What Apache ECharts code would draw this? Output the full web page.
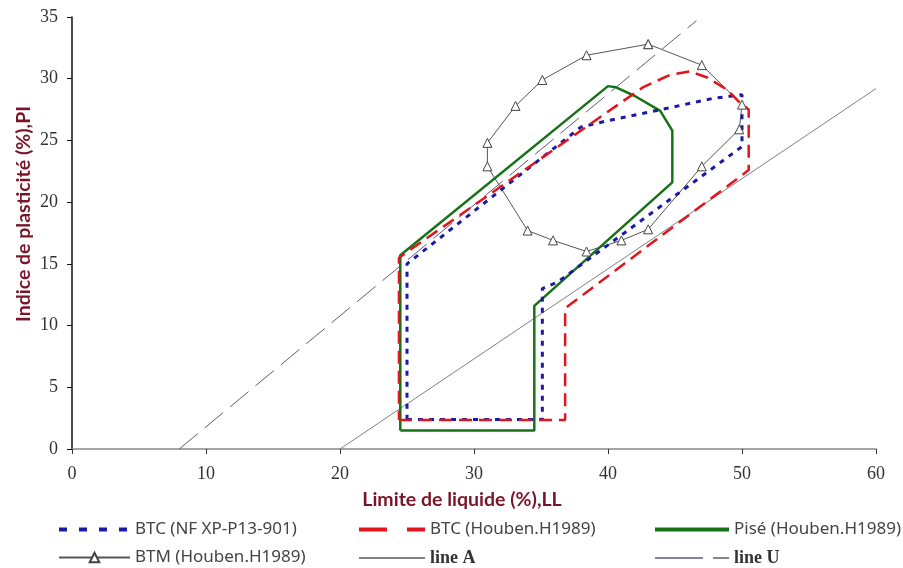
<!DOCTYPE html>
<html>
<head>
<meta charset="utf-8">
<script src="https://cdn.jsdelivr.net/npm/echarts@6/dist/echarts.min.js"></script>
<style>
  html, body { margin: 0; padding: 0; background: #fff; }
  #chart { width: 903px; height: 568px; }
</style>
</head>
<body>
<div id="chart"></div>
<script>
// Abaque de plasticité (Casagrande) — zones BTC / Pisé / BTM
var xTicks = [0, 10, 20, 30, 40, 50, 60];
var yTicks = [0, 5, 10, 15, 20, 25, 30, 35];

// BTC (NF XP-P13-901) — pointillé bleu
var btcNfLL = [25.0, 35.1, 35.1, 36.2, 50.0, 50.0, 47.8, 44.4, 40.0, 38.0, 25.0, 25.0];
var btcNfPI = [2.4, 2.4, 13.0, 13.5, 24.5, 28.7, 28.4, 27.6, 26.6, 26.1, 15.0, 2.4];

// BTC (Houben.H1989) — tirets rouges
var btcHoLL = [24.4, 36.8, 36.8, 50.5, 50.5, 49.8, 48.9, 47.4, 46.1, 44.6, 42.6, 24.4, 24.4];
var btcHoPI = [2.35, 2.35, 11.4, 22.6, 27.5, 28.1, 29.1, 30.1, 30.6, 30.3, 29.3, 15.5, 2.35];

// Pisé (Houben.H1989) — trait vert
var piseLL = [24.5, 34.5, 34.5, 44.8, 44.8, 43.9, 42.0, 40.6, 40.0, 24.5, 24.5];
var pisePI = [1.5, 1.5, 11.6, 21.6, 25.8, 27.4, 28.6, 29.3, 29.4, 15.7, 1.5];

// BTM (Houben.H1989) — triangles
var btmLL = [43.0, 47.0, 50.0, 49.8, 47.0, 43.0, 41.0, 38.4, 35.9, 34.0, 31.0, 31.0, 33.1, 35.1, 38.4, 43.0];
var btmPI = [32.8, 31.1, 27.9, 25.9, 22.9, 17.8, 16.9, 16.0, 16.9, 17.7, 22.9, 24.8, 27.8, 29.9, 31.9, 32.8];

// lignes A et U
var lineALL = [20, 60];
var lineAPI = [0, 29.2];
var lineULL = [8, 46.6];
var lineUPI = [0, 34.7];

function pairs(xs, ys) {
  var out = [];
  for (var i = 0; i < xs.length; i++) out.push([xs[i], ys[i]]);
  return out;
}

var chart = echarts.init(document.getElementById('chart'));

var legendText = { color: '#444', fontSize: 17, fontFamily: 'Noto Sans' };
var serifText = { fontFamily: 'Liberation Serif', fontWeight: 'bold', fontSize: 18, color: '#333' };
var noDot = { opacity: 0 };

var option = {
  animation: false,
  grid: { left: 72, right: 27, top: 17, bottom: 119 },
  legend: [{
    orient: 'vertical', left: 57, top: 521, padding: 0, itemWidth: 71, itemHeight: 12, itemGap: 11,
    textStyle: legendText,
    data: [
      { name: 'BTC (NF XP-P13-901)', itemStyle: noDot, lineStyle: { type: [8, 12], width: 4 } },
      { name: 'BTM (Houben.H1989)' }
    ]
  }, {
    orient: 'vertical', left: 357, top: 521, padding: 0, itemWidth: 66, itemHeight: 12, itemGap: 11,
    textStyle: legendText,
    data: [
      { name: 'BTC (Houben.H1989)', itemStyle: noDot, lineStyle: { type: [28, 20], width: 4 } },
      { name: 'line A', itemStyle: noDot, textStyle: serifText }
    ]
  }, {
    orient: 'vertical', left: 653, top: 521, padding: 0, itemWidth: 74, itemHeight: 12, itemGap: 11,
    textStyle: legendText,
    data: [
      { name: 'Pisé (Houben.H1989)', itemStyle: noDot, lineStyle: { width: 4 } },
      { name: 'line U', itemStyle: noDot, lineStyle: { type: [48, 10], width: 1.5 }, textStyle: serifText }
    ]
  }],
  xAxis: {
    type: 'value', min: 0, max: 60, interval: 10,
    name: 'Limite de liquide (%),LL', nameLocation: 'middle', nameGap: 41, nameMoveOverlap: false,
    nameTextStyle: { color: '#7a1428', fontWeight: 'bold', fontSize: 19.5, fontFamily: 'Lato', padding: [0, 24, 0, 0] },
    axisLine: { lineStyle: { color: '#888', width: 1.5 } },
    axisTick: { inside: false, length: 5, lineStyle: { color: '#333' } },
    axisLabel: { color: '#333', fontSize: 18, fontFamily: 'Liberation Serif', margin: 16 },
    splitLine: { show: false }
  },
  yAxis: {
    type: 'value', min: 0, max: 35, interval: 5,
    name: 'Indice de plasticité (%),PI', nameLocation: 'middle', nameGap: 38, nameMoveOverlap: false,
    nameTextStyle: { color: '#7a1428', fontWeight: 'bold', fontSize: 19.5, fontFamily: 'Lato', padding: [0, 0, 0, 38] },
    axisLine: { show: true, lineStyle: { color: '#111', width: 1.5 } },
    axisTick: { show: true, length: 5, lineStyle: { color: '#111' } },
    axisLabel: { color: '#333', fontSize: 18, fontFamily: 'Liberation Serif', margin: 14 },
    splitLine: { show: false }
  },
  series: [{
    name: 'line A', type: 'line', symbol: 'none', silent: true,
    data: pairs(lineALL, lineAPI),
    lineStyle: { color: '#808080', width: 1 }, itemStyle: { color: '#808080' }
  }, {
    name: 'line U', type: 'line', symbol: 'none', silent: true,
    data: pairs(lineULL, lineUPI),
    lineStyle: { color: '#5c5c78', width: 1, type: [24, 9] }, itemStyle: { color: '#5c5c78' }
  }, {
    name: 'BTM (Houben.H1989)', type: 'line', symbol: 'triangle', symbolSize: 9,
    data: pairs(btmLL, btmPI),
    lineStyle: { color: '#555', width: 1 },
    itemStyle: { color: '#fff', borderColor: '#444', borderWidth: 1 }
  }, {
    name: 'Pisé (Houben.H1989)', type: 'line', symbol: 'none',
    data: pairs(piseLL, pisePI),
    lineStyle: { color: '#177217', width: 2.5 }, itemStyle: { color: '#177217' }
  }, {
    name: 'BTC (NF XP-P13-901)', type: 'line', symbol: 'none',
    data: pairs(btcNfLL, btcNfPI),
    lineStyle: { color: '#1a1aa6', width: 3, type: [5, 6] }, itemStyle: { color: '#1a1aa6' }
  }, {
    name: 'BTC (Houben.H1989)', type: 'line', symbol: 'none',
    data: pairs(btcHoLL, btcHoPI),
    lineStyle: { color: '#e3141c', width: 2.5, type: [13, 7] }, itemStyle: { color: '#e3141c' }
  }]
};

chart.setOption(option);
</script>
</body>
</html>
